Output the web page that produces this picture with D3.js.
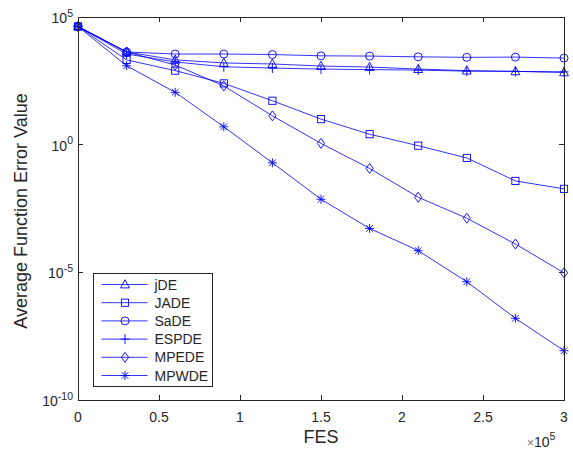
<!DOCTYPE html>
<html>
<head>
<meta charset="utf-8">
<script src="https://cdn.jsdelivr.net/npm/d3@7"></script>
<style>
  html, body { margin: 0; padding: 0; background: #fff; }
  svg { display: block; font-family: "Liberation Sans", Arial, sans-serif; }
</style>
</head>
<body>
<svg id="chart" width="573" height="450"></svg>
<script>
// Function evaluations (in units of 1e5)
const fes = [0, 0.3, 0.6, 0.9, 1.2, 1.5, 1.8, 2.1, 2.4, 2.7, 3.0];

// log10 of the average function error value for each algorithm
const jDE   = [4.63, 3.63, 3.32, 3.20, 3.16, 3.08, 3.04, 2.96, 2.90, 2.87, 2.83];
const JADE  = [4.63, 3.32, 2.90, 2.40, 1.72, 1.00, 0.41, -0.04, -0.52, -1.42, -1.73];
const SaDE  = [4.63, 3.63, 3.55, 3.55, 3.53, 3.48, 3.47, 3.44, 3.42, 3.43, 3.39];
const ESPDE = [4.63, 3.55, 3.24, 3.05, 3.00, 2.96, 2.94, 2.92, 2.88, 2.87, 2.85];
const MPEDE = [4.63, 3.63, 3.12, 2.30, 1.13, 0.05, -0.93, -2.06, -2.88, -3.89, -5.02];
const MPWDE = [4.63, 3.09, 2.05, 0.70, -0.71, -2.14, -3.28, -4.15, -5.37, -6.80, -8.07];

const seriesNames = ["jDE", "JADE", "SaDE", "ESPDE", "MPEDE", "MPWDE"];
const seriesLogs  = [jDE, JADE, SaDE, ESPDE, MPEDE, MPWDE];
const markerKinds = ["triangle", "square", "circle", "plus", "diamond", "asterisk"];

const xTicks = [0, 0.5, 1, 1.5, 2, 2.5, 3];
const yTickExps = [5, 0, -5, -10];

const svg = d3.select("#chart");
const margin = { left: 78, top: 17, right: 564, bottom: 400 };
const axisColor = "#262626";
const lineColor = "#0000ff";

const x = d3.scaleLinear().domain([0, 3]).range([margin.left, margin.right]);
const y = d3.scaleLog().domain([1e-10, 1e5]).range([margin.bottom, margin.top]);

const plotW = margin.right - margin.left;
const plotH = margin.bottom - margin.top;

svg.append("rect")
  .attr("x", margin.left).attr("y", margin.top)
  .attr("width", plotW).attr("height", plotH)
  .attr("fill", "#fff");

const clip = svg.append("defs").append("clipPath").attr("id", "plotclip");
clip.append("rect").attr("x", margin.left - 10).attr("y", margin.top - 10)
  .attr("width", plotW + 20).attr("height", plotH + 20);

const line = d3.line()
  .x((d, i) => x(fes[i]))
  .y(d => y(Math.pow(10, d)));

function drawMarker(g, kind, cx, cy) {
  const s = g.append("g").attr("transform", `translate(${cx},${cy})`)
    .attr("fill", "none").attr("stroke", lineColor).attr("stroke-width", 0.9);
  if (kind === "circle") {
    s.append("circle").attr("r", 4);
  } else if (kind === "square") {
    s.append("rect").attr("x", -3.6).attr("y", -3.6).attr("width", 7.2).attr("height", 7.2);
  } else if (kind === "triangle") {
    s.append("path").attr("d", "M0,-4.8L4.4,3.4L-4.4,3.4Z");
  } else if (kind === "diamond") {
    s.append("path").attr("d", "M0,-5L3.6,0L0,5L-3.6,0Z");
  } else if (kind === "plus") {
    s.append("path").attr("d", "M-4.5,0H4.5M0,-5V5");
  } else if (kind === "asterisk") {
    s.append("path").attr("d", "M-4.5,0H4.5M0,-4.5V4.5M-3.3,-3.3L3.3,3.3M-3.3,3.3L3.3,-3.3");
  }
}

// Convergence curves with their markers
const plotG = svg.append("g").attr("clip-path", "url(#plotclip)");
seriesLogs.forEach((vals, si) => {
  plotG.append("path")
    .datum(vals)
    .attr("d", line)
    .attr("fill", "none")
    .attr("stroke", lineColor)
    .attr("stroke-width", 0.8);
  vals.forEach((v, i) => drawMarker(plotG, markerKinds[si], x(fes[i]), y(Math.pow(10, v))));
});

// Axes box
svg.append("rect")
  .attr("x", margin.left).attr("y", margin.top)
  .attr("width", plotW).attr("height", plotH)
  .attr("fill", "none").attr("stroke", axisColor).attr("stroke-width", 1)
  .attr("shape-rendering", "crispEdges");

// Inward ticks on all four sides
const tickLen = 5;
const axes = svg.append("g").attr("stroke", axisColor).attr("stroke-width", 1)
  .attr("shape-rendering", "crispEdges");
xTicks.forEach(t => {
  const px = x(t);
  axes.append("line").attr("x1", px).attr("x2", px)
    .attr("y1", margin.bottom).attr("y2", margin.bottom - tickLen);
  axes.append("line").attr("x1", px).attr("x2", px)
    .attr("y1", margin.top).attr("y2", margin.top + tickLen);
});
yTickExps.forEach(e => {
  const py = y(Math.pow(10, e));
  axes.append("line").attr("x1", margin.left).attr("x2", margin.left + tickLen)
    .attr("y1", py).attr("y2", py);
  axes.append("line").attr("x1", margin.right).attr("x2", margin.right - tickLen)
    .attr("y1", py).attr("y2", py);
});

// X tick labels
svg.append("g").selectAll("text").data(xTicks).join("text")
  .attr("x", d => x(d))
  .attr("y", margin.bottom + 21.5)
  .attr("text-anchor", "middle")
  .attr("fill", axisColor)
  .attr("font-size", 14)
  .text(d => d);

// Y tick labels as 10 with superscript exponent
yTickExps.forEach(e => {
  const py = y(Math.pow(10, e));
  const t = svg.append("text")
    .attr("x", margin.left - 5)
    .attr("y", py + 6)
    .attr("text-anchor", "end")
    .attr("fill", axisColor)
    .attr("font-size", 14);
  t.append("tspan").text("10");
  t.append("tspan").attr("dy", -6.5).attr("font-size", 10.5).text(String(e));
});

// Axis labels
svg.append("text")
  .attr("x", 321).attr("y", 442.5)
  .attr("text-anchor", "middle")
  .attr("fill", axisColor)
  .attr("font-size", 18)
  .text("FES");

svg.append("text")
  .attr("transform", `translate(27,${(85 + 337) / 2}) rotate(-90)`)
  .attr("text-anchor", "middle")
  .attr("fill", axisColor)
  .attr("font-size", 18)
  .text("Average Function Error Value");

// Exponent multiplier under the x axis
const mult = svg.append("text")
  .attr("x", 527).attr("y", 446.5)
  .attr("fill", axisColor)
  .attr("font-size", 14);
mult.append("tspan").attr("font-size", 12).attr("fill", "#777").text("\u00d7");
mult.append("tspan").text("10");
mult.append("tspan").attr("dy", -6.5).attr("font-size", 10.5).text("5");

// Legend
const legX = 93, legY = 273.5, legW = 119, legH = 112.5;
const leg = svg.append("g");
leg.append("rect")
  .attr("x", legX).attr("y", legY).attr("width", legW).attr("height", legH)
  .attr("fill", "#fff").attr("stroke", axisColor).attr("stroke-width", 1)
  .attr("shape-rendering", "crispEdges");
seriesNames.forEach((name, i) => {
  const ly = 284.5 + i * 18.2;
  leg.append("line")
    .attr("x1", 101.5).attr("x2", 147.5)
    .attr("y1", ly).attr("y2", ly)
    .attr("stroke", lineColor).attr("stroke-width", 0.8);
  drawMarker(leg, markerKinds[i], 125, ly);
  leg.append("text")
    .attr("x", 154.5).attr("y", ly + 5)
    .attr("fill", axisColor)
    .attr("font-size", 14)
    .text(name);
});
</script>
</body>
</html>
